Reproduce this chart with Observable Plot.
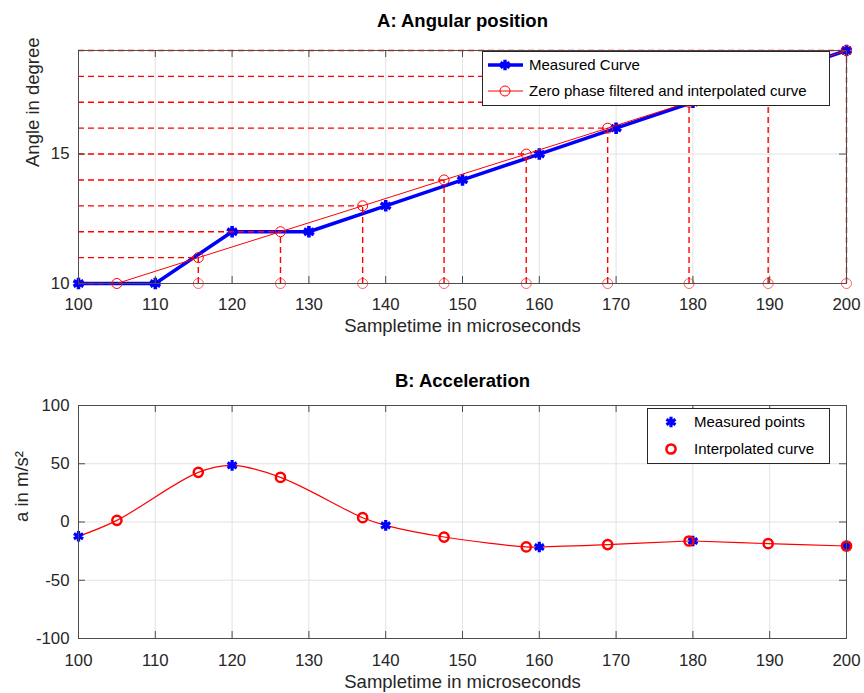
<!DOCTYPE html>
<html><head><meta charset="utf-8">
<script src="https://cdn.jsdelivr.net/npm/d3@7"></script>
<script src="https://cdn.jsdelivr.net/npm/@observablehq/plot@0.6"></script>
<style>
body{margin:0;background:#fff;}
#wrap{position:relative;width:864px;height:693px;font-family:"Liberation Sans",Arial,Helvetica,sans-serif;}
#wrap > svg{display:block;}
.legend{position:absolute;overflow:visible;}
</style></head><body><div id="wrap"></div>
<script>
// ---------- data ----------
const measuredTime = [100, 110, 120, 130, 140, 150, 160, 170, 180, 190, 200];
const measuredAngle = [10, 10, 12, 12, 13, 14, 15, 16, 17, 18, 19];
const interpTime = [105, 115.6, 126.3, 137.0, 147.6, 158.3, 168.9, 179.5, 189.8, 200];
const interpAngle = [10, 11, 12, 13, 14, 15, 16, 17, 18, 19];
const accMeasuredTime = [100, 120, 140, 160, 180, 200];
const accMeasured = [-12.3, 48.6, -2.9, -21.4, -16.3, -20.6];
const accInterp = [1.4, 42.6, 38.3, 3.7, -12.9, -21.4, -19.4, -16.3, -18.6, -20.6];
const timeTicks = [100, 110, 120, 130, 140, 150, 160, 170, 180, 190, 200];
const angleTicks = [10, 15];
const accTicks = [-100, -50, 0, 50, 100];
const timeDomain = [100, 200];
const angleDomain = [10, 19];
const accDomain = [-100, 100];
const titles = ["A: Angular position", "B: Acceleration"];
const xLabel = "Sampletime in microseconds";
const yLabels = ["Angle in degree", "a in m/s\u00B2"];
const legendA = ["Measured Curve", "Zero phase filtered and interpolated curve"];
const legendB = ["Measured points", "Interpolated curve"];

// ---------- tables ----------
const measured = measuredTime.map((t, i) => ({t, a: measuredAngle[i]}));
const interp = interpTime.map((t, i) => ({t, a: interpAngle[i]}));
const accM = accMeasuredTime.map((t, i) => ({t, v: accMeasured[i]}));
const accI = interpTime.map((t, i) => ({t, v: accInterp[i]}));
const accCurve = [...accM, ...accI].sort((p, q) => p.t - q.t);

// ---------- style ----------
const FONT = '"Liberation Sans", Arial, Helvetica, sans-serif';
const INK = "#262626", FRAME = "#4d4d4d", GRID = "#e2e2e2";
const BLUE = "#0000ff", RED = "#ff0000";
const W = 864, ML = 78, MR = 18, TICK = 7;
const TICKFS = 16.8, LABFS = 18.5, LEGFS = 15;
const fmt = d => String(d);

function frameMarks(yTicks, plotH, xPad) {
  const plotW = W - ML - MR;
  return [
    Plot.frame({stroke: FRAME, strokeWidth: 1}),
    Plot.ruleX(timeTicks, {x: d => d, insetTop: plotH - TICK, stroke: FRAME}),
    Plot.ruleX(timeTicks, {x: d => d, insetBottom: plotH - TICK, stroke: FRAME}),
    Plot.ruleY(yTicks, {y: d => d, insetRight: plotW - TICK, stroke: FRAME}),
    Plot.ruleY(yTicks, {y: d => d, insetLeft: plotW - TICK, stroke: FRAME}),
    Plot.axisX({ticks: timeTicks, tickSize: 0, tickPadding: xPad, label: null, tickFormat: fmt, fill: INK, fontSize: TICKFS}),
    Plot.axisY({ticks: yTicks, tickSize: 0, tickPadding: 9, label: null, tickFormat: fmt, fill: INK, fontSize: TICKFS})
  ];
}

// ---------- chart A ----------
const hA = 346, mtA = 50, mbA = 63;
const plotA = Plot.plot({
  width: W, height: hA,
  marginLeft: ML, marginRight: MR, marginTop: mtA, marginBottom: mbA,
  style: {fontFamily: FONT, fontSize: TICKFS + "px", background: "white", overflow: "visible"},
  x: {domain: timeDomain},
  y: {domain: angleDomain},
  marks: [
    Plot.gridX({ticks: timeTicks, stroke: GRID, strokeOpacity: 1}),
    Plot.gridY({ticks: angleTicks, stroke: GRID, strokeOpacity: 1}),
    Plot.frame({stroke: FRAME}),
    Plot.line(measured, {x: "t", y: "a", stroke: BLUE, strokeWidth: 3.5}),
    Plot.dot(measured, {x: "t", y: "a", symbol: "asterisk", r: 5.4, stroke: BLUE, strokeWidth: 3.6}),
    Plot.ruleY(interp, {y: "a", x1: () => timeDomain[0], x2: "t", stroke: RED, strokeWidth: 1.4, strokeDasharray: "6,4"}),
    Plot.ruleX(interp.slice(1), {x: "t", y1: () => angleDomain[0], y2: "a", stroke: RED, strokeWidth: 1.4, strokeDasharray: "6,4"}),
    Plot.line(interp, {x: "t", y: "a", stroke: RED, strokeWidth: 1}),
    Plot.dot(interp, {x: "t", y: "a", r: 5, stroke: RED, strokeWidth: 1}),
    Plot.dot(interp.slice(1), {x: "t", y: () => angleDomain[0], r: 5, stroke: RED, strokeWidth: 1, strokeOpacity: 0.6}),
    ...frameMarks(angleTicks, hA - mtA - mbA, 15),
    Plot.text([titles[0]], {frameAnchor: "top", lineAnchor: "middle", dy: -29, fontWeight: "bold", fontSize: LABFS, fill: "black"}),
    Plot.text([xLabel], {frameAnchor: "bottom", lineAnchor: "middle", dy: 43, fontSize: LABFS, fill: INK}),
    Plot.text([yLabels[0]], {frameAnchor: "left", lineAnchor: "middle", dx: -45, rotate: -90, fontSize: LABFS, fill: INK})
  ]
});

// ---------- chart B ----------
const hB = 347, mtB = 59, mbB = 55;
const plotB = Plot.plot({
  width: W, height: hB,
  marginLeft: ML, marginRight: MR, marginTop: mtB, marginBottom: mbB,
  style: {fontFamily: FONT, fontSize: TICKFS + "px", background: "white", overflow: "visible"},
  x: {domain: timeDomain},
  y: {domain: accDomain},
  marks: [
    Plot.gridX({ticks: timeTicks, stroke: GRID, strokeOpacity: 1}),
    Plot.gridY({ticks: accTicks, stroke: GRID, strokeOpacity: 1}),
    Plot.line(accCurve, {x: "t", y: "v", curve: "catmull-rom", stroke: RED, strokeWidth: 1.2}),
    Plot.dot(accM, {x: "t", y: "v", symbol: "asterisk", r: 5, stroke: BLUE, strokeWidth: 3.2}),
    Plot.dot(accI, {x: "t", y: "v", r: 4.6, stroke: RED, strokeWidth: 2.5}),
    ...frameMarks(accTicks, hB - mtB - mbB, 16),
    Plot.text([titles[1]], {frameAnchor: "top", lineAnchor: "middle", dy: -24, fontWeight: "bold", fontSize: LABFS, fill: "black"}),
    Plot.text([xLabel], {frameAnchor: "bottom", lineAnchor: "middle", dy: 44, fontSize: LABFS, fill: INK}),
    Plot.text([yLabels[1]], {frameAnchor: "left", lineAnchor: "middle", dx: -56, rotate: -90, fontSize: LABFS, fill: INK})
  ]
});

const wrap = document.getElementById("wrap");
wrap.appendChild(plotA);
wrap.appendChild(plotB);

// ---------- legends ----------
function legend(left, top, w, h, rows) {
  const svg = d3.select(wrap).append("svg").attr("class", "legend")
    .style("left", left + "px").style("top", top + "px")
    .attr("width", w + 1).attr("height", h + 1);
  svg.append("rect").attr("x", 0.5).attr("y", 0.5).attr("width", w).attr("height", h)
    .attr("fill", "white").attr("stroke", INK).attr("stroke-width", 1);
  rows.forEach(r => {
    const g = svg.append("g").attr("transform", `translate(0,${r.y})`);
    if (r.line) g.append("line").attr("x1", r.lx1).attr("x2", r.lx2).attr("stroke", r.color).attr("stroke-width", r.line);
    if (r.symbol === "star") {
      g.append("path").attr("transform", `translate(${r.mx},0)`)
        .attr("d", d3.symbol(d3.symbolAsterisk, Math.PI * r.r * r.r)())
        .attr("fill", "none").attr("stroke", r.color).attr("stroke-width", r.sw);
    } else {
      g.append("circle").attr("cx", r.mx).attr("r", r.r).attr("fill", "none")
        .attr("stroke", r.color).attr("stroke-width", r.sw);
    }
    g.append("text").attr("x", r.tx).attr("dy", "0.35em").attr("fill", "black")
      .style("font-family", FONT).style("font-size", LEGFS + "px").text(r.label);
  });
}
legend(482, 51, 347, 54, [
  {y: 14, line: 3.5, lx1: 6, lx2: 41, mx: 23, symbol: "star", r: 5, sw: 3.4, color: BLUE, tx: 47, label: legendA[0]},
  {y: 40, line: 1, lx1: 6, lx2: 41, mx: 23, symbol: "circle", r: 5, sw: 1, color: RED, tx: 47, label: legendA[1]}
]);
legend(647, 408, 182, 55, [
  {y: 14, mx: 24, symbol: "star", r: 5, sw: 3.2, color: BLUE, tx: 47, label: legendB[0]},
  {y: 41, mx: 24, symbol: "circle", r: 4.6, sw: 2.5, color: RED, tx: 47, label: legendB[1]}
]);
</script></body></html>
